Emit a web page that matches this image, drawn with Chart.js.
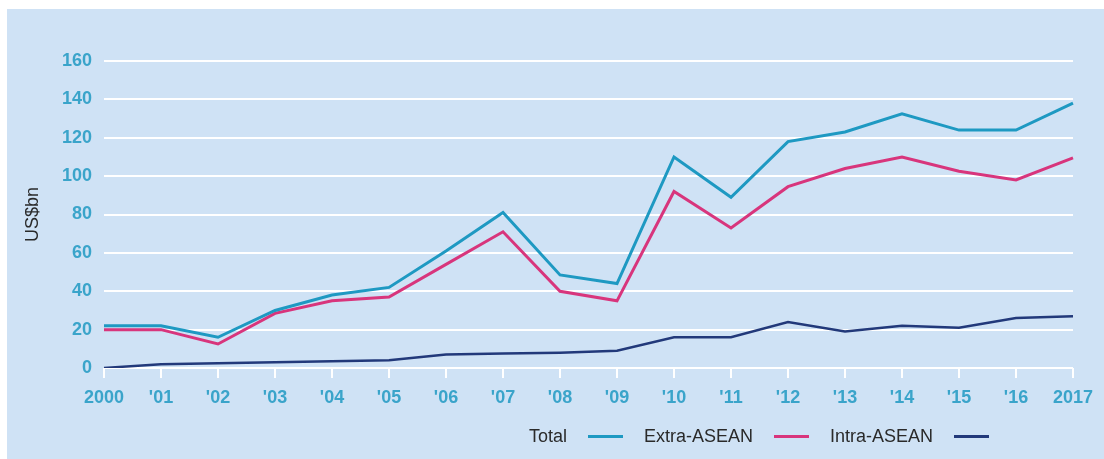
<!DOCTYPE html>
<html>
<head>
<meta charset="utf-8">
<script src="https://cdn.jsdelivr.net/npm/chart.js@4.4.1/dist/chart.umd.min.js"></script>
<style>
  html, body { margin: 0; padding: 0; background: #ffffff; }
  #wrap { position: relative; width: 1104px; height: 459px; }
  #legend {
    position: absolute; left: 529px; top: 426px;
    display: flex; align-items: center;
    font-family: "Liberation Sans", Arial, sans-serif; font-size: 18px; color: #2a2a2a;
  }
  #legend .swatch { display: inline-block; width: 35px; height: 3px; margin: 0 21px; }
</style>
</head>
<body>
<div id="wrap">
  <canvas id="chart" width="1104" height="459"></canvas>
  <div id="legend"></div>
</div>
<script>
// DADOS
const years = ['2000', "'01", "'02", "'03", "'04", "'05", "'06", "'07", "'08", "'09", "'10", "'11", "'12", "'13", "'14", "'15", "'16", '2017'];
const totalValues = [22, 22, 16, 30, 38, 42, 61, 81, 48.5, 44, 110, 89, 118, 123, 132.5, 124, 124, 138];
const extraValues = [20, 20, 12.5, 28.5, 35, 37, 54, 71, 40, 35, 92, 73, 94.5, 104, 110, 102.5, 98, 109.5];
const intraValues = [0, 2, 2.5, 3, 3.5, 4, 7, 7.5, 8, 9, 16, 16, 24, 19, 22, 21, 26, 27];
const yTicks = [0, 20, 40, 60, 80, 100, 120, 140, 160];

const seriesNames = ['Total', 'Extra-ASEAN', 'Intra-ASEAN'];
const seriesColors = ['#1e99c2', '#d8357c', '#22397a'];

// FUNDO DO PAINEL
const panelBg = {
    id: 'panelBg',
    beforeDraw(chart) {
        const c = chart.ctx;
        c.save();
        c.fillStyle = '#cfe2f5';
        c.fillRect(7, 9, 1097, 450);
        c.restore();
    }
};

const tickFont = { family: '"Liberation Sans", Arial, sans-serif', size: 18, weight: 'bold' };

const ctx = document.getElementById('chart').getContext('2d');
new Chart(ctx, {
    type: 'line',
    data: {
        labels: years,
        datasets: [
            { label: seriesNames[0], data: totalValues, borderColor: seriesColors[0], borderWidth: 3 },
            { label: seriesNames[1], data: extraValues, borderColor: seriesColors[1], borderWidth: 3 },
            { label: seriesNames[2], data: intraValues, borderColor: seriesColors[2], borderWidth: 2.5 }
        ]
    },
    options: {
        responsive: false,
        animation: false,
        events: [],
        elements: { point: { radius: 0 }, line: { tension: 0, fill: false, borderJoinStyle: 'miter' } },
        layout: { padding: { top: 61, right: 31, left: 0, bottom: 0 } },
        plugins: { legend: { display: false }, tooltip: { enabled: false } },
        scales: {
            x: {
                afterFit: s => { s.height = 91; },
                border: { display: false },
                grid: { drawOnChartArea: false, drawTicks: true, tickLength: 10, color: '#ffffff', lineWidth: 2 },
                ticks: { color: '#3aa4ca', padding: 9, maxRotation: 0, autoSkip: false, font: tickFont }
            },
            y: {
                min: 0, max: 160,
                afterFit: s => { s.width = 104; },
                afterBuildTicks: s => { s.ticks = yTicks.map(v => ({ value: v })); },
                border: { display: false },
                grid: { color: '#ffffff', lineWidth: 2, drawTicks: false },
                ticks: { color: '#3aa4ca', padding: 12, font: tickFont },
                title: {
                    display: true, text: 'US$bn', color: '#2a2a2a',
                    padding: { top: 22, bottom: 0 },
                    font: { family: '"Liberation Sans", Arial, sans-serif', size: 18 }
                }
            }
        }
    },
    plugins: [panelBg]
});

// LEGENDA (texto antes da linha)
const legend = document.getElementById('legend');
seriesNames.forEach((name, i) => {
    const label = document.createElement('span');
    label.textContent = name;
    const sw = document.createElement('span');
    sw.className = 'swatch';
    sw.style.background = seriesColors[i];
    legend.appendChild(label);
    legend.appendChild(sw);
});
</script>
</body>
</html>
